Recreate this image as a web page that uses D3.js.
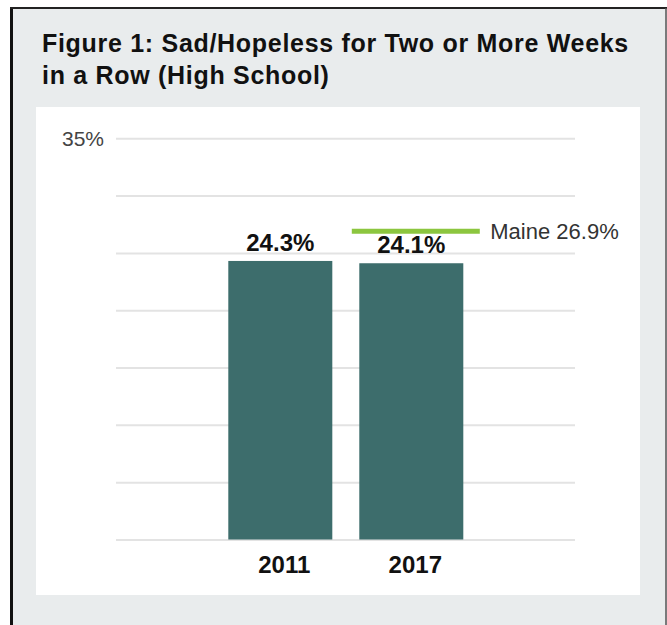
<!DOCTYPE html>
<html>
<head>
<meta charset="utf-8">
<script src="https://cdn.jsdelivr.net/npm/d3@7"></script>
<style>
  body { margin: 0; background: #fff; }
  svg { display: block; font-family: "Liberation Sans", Arial, sans-serif; }
</style>
</head>
<body>
<svg id="chart" width="667" height="625"></svg>
<script>
// chart data
var titleLines = ["Figure 1: Sad/Hopeless for Two or More Weeks", "in a Row (High School)"];
var years = ["2011", "2017"];
var values = [24.3, 24.1];
var maineLabel = "Maine";
var maineValue = 26.9;
var yTicks = [0, 5, 10, 15, 20, 25, 30, 35];
var yLabelled = [35];

var svg = d3.select("#chart"),
    width = +svg.attr("width"),
    height = +svg.attr("height");

// grey card with black frame
svg.append("rect")
    .attr("x", 11).attr("y", 8)
    .attr("width", width - 11).attr("height", height - 8)
    .style("fill", "#e9eced");
svg.append("line")
    .attr("x1", 11.5).attr("x2", 11.5).attr("y1", 7).attr("y2", height)
    .style("stroke", "#111").style("stroke-width", 3);
svg.append("line")
    .attr("x1", 10).attr("x2", width).attr("y1", 8).attr("y2", 8)
    .style("stroke", "#222").style("stroke-width", 2);
svg.append("line")
    .attr("x1", 666).attr("x2", 666).attr("y1", 8).attr("y2", height)
    .style("stroke", "#555").style("stroke-width", 1.5);

svg.selectAll(".title")
    .data(titleLines)
    .enter().append("text")
    .attr("class", "title")
    .attr("x", 42)
    .attr("y", function(d, i) { return 52 + i * 32; })
    .style("font-size", "25px")
    .style("letter-spacing", "0.7px")
    .style("font-weight", "bold")
    .style("fill", "#111")
    .text(function(d) { return d; });

// white plot panel
svg.append("rect")
    .attr("x", 36).attr("y", 107)
    .attr("width", 604).attr("height", 488)
    .style("fill", "#fff");

var y = d3.scaleLinear()
    .domain([0, 35])
    .range([539.5, 138.3]);

var x = d3.scaleBand()
    .domain(years)
    .range([228.3, 463.3])
    .paddingInner(0.206)
    .paddingOuter(0);

var gridLeft = 116, gridRight = 575;

var yAxis = svg.append("g")
    .attr("transform", "translate(" + gridLeft + ",0)")
    .call(d3.axisLeft(y)
        .tickValues(yTicks)
        .tickSize(-(gridRight - gridLeft))
        .tickPadding(12)
        .tickFormat(function(d) { return yLabelled.indexOf(d) >= 0 ? d + "%" : ""; }));

yAxis.select(".domain").remove();
yAxis.selectAll(".tick line")
    .style("stroke", "#e3e3e3")
    .style("stroke-width", 2);
yAxis.selectAll(".tick text")
    .style("font-size", "21px")
    .style("font-family", "'Liberation Sans', Arial, sans-serif")
    .style("fill", "#444");

var bars = svg.append("g").attr("class", "bars");

bars.selectAll("rect")
    .data(values)
    .enter().append("rect")
    .attr("x", function(d, i) { return x(years[i]); })
    .attr("y", function(d) { return y(d); })
    .attr("width", x.bandwidth())
    .attr("height", function(d) { return y(0) - y(d); })
    .style("fill", "#3d6d6c");

bars.selectAll("text.value")
    .data(values)
    .enter().append("text")
    .attr("class", "value")
    .attr("x", function(d, i) { return x(years[i]) + x.bandwidth() / 2; })
    .attr("y", function(d) { return y(d) - 10; })
    .attr("text-anchor", "middle")
    .style("font-size", "24px")
    .style("font-weight", "bold")
    .style("fill", "#111")
    .text(function(d) { return d.toFixed(1) + "%"; });

bars.selectAll("text.year")
    .data(years)
    .enter().append("text")
    .attr("class", "year")
    .attr("x", function(d) { return x(d) + x.bandwidth() / 2 + 4; })
    .attr("y", 573)
    .attr("text-anchor", "middle")
    .style("font-size", "24px")
    .style("font-weight", "bold")
    .style("fill", "#111")
    .text(function(d) { return d; });

// state benchmark line over the latest year
var lastYear = years[years.length - 1];
svg.append("line")
    .attr("x1", x(lastYear) - 7.5)
    .attr("x2", x(lastYear) + x.bandwidth() + 16.5)
    .attr("y1", y(maineValue))
    .attr("y2", y(maineValue))
    .style("stroke", "#8cc63f")
    .style("stroke-width", 5);

svg.append("text")
    .attr("x", x(lastYear) + x.bandwidth() + 27)
    .attr("y", y(maineValue))
    .attr("dy", "0.35em")
    .style("font-size", "22px")
    .style("fill", "#333")
    .text(maineLabel + " " + maineValue.toFixed(1) + "%");
</script>
</body>
</html>
